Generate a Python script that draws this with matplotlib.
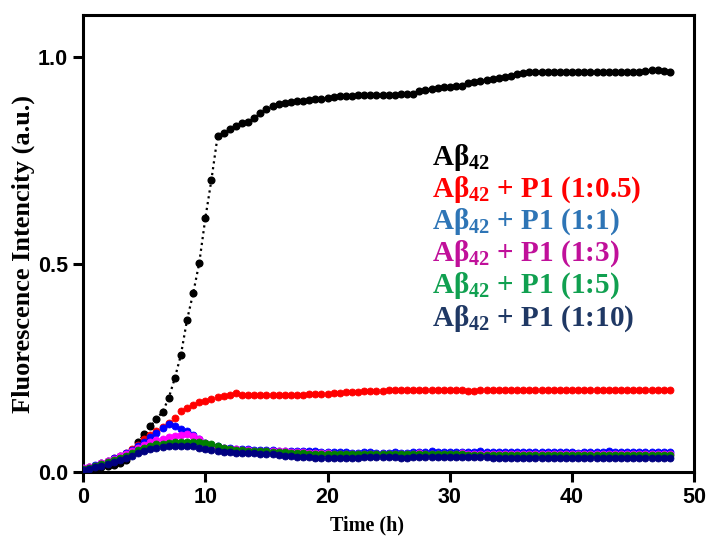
import numpy as np
import matplotlib
matplotlib.use("Agg")
import matplotlib.pyplot as plt

# time points (h), every 30 min
time_h = np.arange(0, 48.5, 0.5)

abeta = [0.005, 0.008, 0.010, 0.012, 0.014, 0.017, 0.021, 0.030, 0.048, 0.072,
         0.093, 0.110, 0.128, 0.145, 0.178, 0.226, 0.282, 0.366, 0.430, 0.503,
         0.611, 0.704, 0.808, 0.816, 0.826, 0.834, 0.839, 0.842, 0.852, 0.864,
         0.875, 0.882, 0.886, 0.888, 0.890, 0.892, 0.893, 0.895, 0.897, 0.899,
         0.901, 0.903, 0.904, 0.905, 0.906, 0.907, 0.907, 0.908, 0.908, 0.908,
         0.908, 0.908, 0.909, 0.909, 0.910, 0.916, 0.919, 0.922, 0.924, 0.926,
         0.927, 0.928, 0.930, 0.936, 0.939, 0.941, 0.943, 0.946, 0.948, 0.951,
         0.954, 0.959, 0.961, 0.962, 0.963, 0.963, 0.963, 0.964, 0.963, 0.963,
         0.963, 0.964, 0.963, 0.963, 0.964, 0.963, 0.963, 0.964, 0.963, 0.964,
         0.964, 0.964, 0.966, 0.968, 0.967, 0.965, 0.962]

p1_05 = [0.008, 0.012, 0.016, 0.021, 0.027, 0.033, 0.040, 0.047, 0.055, 0.065,
         0.080, 0.090, 0.098, 0.108, 0.118, 0.130, 0.148, 0.154, 0.161, 0.168,
         0.171, 0.175, 0.181, 0.184, 0.186, 0.190, 0.186, 0.185, 0.185, 0.185,
         0.185, 0.185, 0.185, 0.185, 0.186, 0.186, 0.186, 0.187, 0.187, 0.188,
         0.189, 0.190, 0.191, 0.192, 0.193, 0.194, 0.195, 0.195, 0.196, 0.196,
         0.197, 0.197, 0.198, 0.198, 0.198, 0.198, 0.198, 0.198, 0.197, 0.197,
         0.197, 0.197, 0.197, 0.196, 0.196, 0.197, 0.197, 0.197, 0.197, 0.197,
         0.197, 0.197, 0.197, 0.197, 0.197, 0.198, 0.197, 0.197, 0.197, 0.197,
         0.197, 0.197, 0.197, 0.197, 0.197, 0.197, 0.197, 0.197, 0.197, 0.197,
         0.197, 0.197, 0.197, 0.197, 0.197, 0.197, 0.197]

p1_1 = [0.010, 0.013, 0.017, 0.022, 0.028, 0.034, 0.040, 0.046, 0.053, 0.062,
        0.073, 0.085, 0.095, 0.106, 0.117, 0.111, 0.105, 0.098, 0.090, 0.080,
        0.070, 0.066, 0.063, 0.059, 0.058, 0.057, 0.056, 0.055, 0.054, 0.054,
        0.053, 0.053, 0.052, 0.052, 0.051, 0.051, 0.050, 0.050, 0.050, 0.049,
        0.049, 0.048, 0.048, 0.048, 0.047, 0.047, 0.048, 0.048, 0.047, 0.047,
        0.047, 0.048, 0.046, 0.047, 0.048, 0.049, 0.049, 0.050, 0.049, 0.048,
        0.048, 0.048, 0.048, 0.049, 0.049, 0.050, 0.049, 0.049, 0.048, 0.048,
        0.048, 0.048, 0.049, 0.049, 0.048, 0.048, 0.048, 0.048, 0.049, 0.049,
        0.049, 0.046, 0.048, 0.049, 0.048, 0.049, 0.050, 0.049, 0.048, 0.049,
        0.049, 0.048, 0.048, 0.048, 0.049, 0.048, 0.048]

p1_3 = [0.009, 0.012, 0.016, 0.021, 0.026, 0.032, 0.038, 0.044, 0.051, 0.058,
        0.066, 0.072, 0.077, 0.081, 0.085, 0.088, 0.090, 0.092, 0.088, 0.079,
        0.071, 0.065, 0.061, 0.058, 0.056, 0.055, 0.054, 0.053, 0.052, 0.052,
        0.051, 0.051, 0.050, 0.050, 0.049, 0.048, 0.048, 0.047, 0.047, 0.046,
        0.046, 0.045, 0.045, 0.045, 0.045, 0.045, 0.044, 0.045, 0.045, 0.045,
        0.045, 0.045, 0.045, 0.044, 0.045, 0.046, 0.045, 0.045, 0.045, 0.045,
        0.045, 0.045, 0.046, 0.045, 0.045, 0.045, 0.045, 0.044, 0.045, 0.045,
        0.045, 0.045, 0.045, 0.045, 0.045, 0.045, 0.044, 0.045, 0.045, 0.045,
        0.045, 0.045, 0.045, 0.045, 0.045, 0.045, 0.045, 0.045, 0.044, 0.045,
        0.045, 0.045, 0.045, 0.045, 0.045, 0.045, 0.045]

p1_5 = [0.008, 0.011, 0.015, 0.019, 0.024, 0.029, 0.034, 0.040, 0.046, 0.053,
        0.059, 0.064, 0.067, 0.069, 0.071, 0.072, 0.073, 0.073, 0.073, 0.072,
        0.071, 0.069, 0.062, 0.058, 0.056, 0.054, 0.053, 0.052, 0.051, 0.050,
        0.050, 0.049, 0.048, 0.048, 0.047, 0.046, 0.046, 0.045, 0.045, 0.045,
        0.044, 0.044, 0.044, 0.043, 0.043, 0.043, 0.043, 0.043, 0.043, 0.043,
        0.043, 0.043, 0.043, 0.043, 0.043, 0.043, 0.043, 0.043, 0.043, 0.043,
        0.043, 0.043, 0.043, 0.042, 0.042, 0.042, 0.042, 0.042, 0.042, 0.042,
        0.042, 0.042, 0.042, 0.042, 0.042, 0.042, 0.042, 0.042, 0.042, 0.042,
        0.042, 0.042, 0.042, 0.042, 0.042, 0.042, 0.042, 0.042, 0.042, 0.042,
        0.042, 0.042, 0.042, 0.042, 0.042, 0.042, 0.042]

p1_10 = [0.005, 0.008, 0.012, 0.016, 0.020, 0.025, 0.030, 0.035, 0.040, 0.046,
         0.051, 0.055, 0.058, 0.061, 0.063, 0.064, 0.064, 0.064, 0.062, 0.059,
         0.056, 0.053, 0.050, 0.049, 0.048, 0.047, 0.047, 0.046, 0.046, 0.045,
         0.045, 0.044, 0.042, 0.040, 0.038, 0.037, 0.036, 0.036, 0.035, 0.035,
         0.035, 0.035, 0.035, 0.035, 0.035, 0.035, 0.036, 0.036, 0.036, 0.036,
         0.036, 0.036, 0.035, 0.035, 0.036, 0.036, 0.036, 0.036, 0.036, 0.036,
         0.036, 0.036, 0.036, 0.036, 0.036, 0.036, 0.036, 0.035, 0.035, 0.035,
         0.033, 0.033, 0.034, 0.035, 0.035, 0.035, 0.035, 0.035, 0.035, 0.035,
         0.035, 0.035, 0.035, 0.035, 0.035, 0.035, 0.035, 0.035, 0.035, 0.035,
         0.035, 0.035, 0.035, 0.035, 0.035, 0.035, 0.035]

labels = [r"A$\beta_{42}$",
          r"A$\beta_{42}$ + P1 (1:0.5)",
          r"A$\beta_{42}$ + P1 (1:1)",
          r"A$\beta_{42}$ + P1 (1:3)",
          r"A$\beta_{42}$ + P1 (1:5)",
          r"A$\beta_{42}$ + P1 (1:10)"]
marker_colors = ["black", "#ff0000", "#0000ff", "#ff00ff", "#008000", "#000080"]
text_colors = ["black", "#ff0000", "#2e75b6", "#c0109a", "#10a050", "#1f3864"]

plt.rcParams["mathtext.fontset"] = "custom"
plt.rcParams["mathtext.rm"] = "Liberation Serif:bold"
plt.rcParams["mathtext.it"] = "Liberation Serif:bold"
plt.rcParams["mathtext.bf"] = "Liberation Serif:bold"
plt.rcParams["mathtext.default"] = "bf"

fig = plt.figure(figsize=(7.1, 5.36), dpi=100)
ax = fig.add_axes([0.117, 0.119, 0.861, 0.853])

# Abeta alone: big dots joined by a dotted line
ax.plot(time_h, abeta, color="black", linestyle=":", linewidth=1.6,
        marker="o", markersize=4.8, zorder=3)
for ys, c in zip([p1_05, p1_1, p1_3, p1_5, p1_10], marker_colors[1:]):
    ax.plot(time_h, ys, linestyle="none", marker="o", markersize=5.0,
            color=c, markeredgewidth=0.6, markeredgecolor=c, zorder=3)

ax.set_xlim(0, 50)
ax.set_ylim(0, 1.1)
ax.set_xticks([0, 10, 20, 30, 40, 50])
ax.set_yticks([0.0, 0.5, 1.0])
ax.set_yticklabels(["0.0", "0.5", "1.0"])
for sp in ax.spines.values():
    sp.set_linewidth(2.2)
ax.tick_params(direction="out", length=7, width=2.2, pad=4)
for lab in ax.get_xticklabels() + ax.get_yticklabels():
    lab.set_fontfamily("Liberation Sans")
    lab.set_fontweight("bold")
    lab.set_fontsize(15.5)

ax.set_xlabel("Time (h)", family="Liberation Serif", weight="bold",
              fontsize=14.5)
ax.set_ylabel("Fluorescence Intencity (a.u.)", family="Liberation Serif",
              weight="bold", fontsize=19)
ax.xaxis.set_label_coords(0.465, -0.095)
ax.yaxis.set_label_coords(-0.078, 0.477)

# coloured text legend
for i, (lab, c) in enumerate(zip(labels, text_colors)):
    ax.text(0.571, 0.689 - i * 0.0705, lab, transform=ax.transAxes,
            color=c, family="Liberation Serif", weight="bold", fontsize=21,
            va="center", ha="left")

fig.savefig("out.png", dpi=100)
